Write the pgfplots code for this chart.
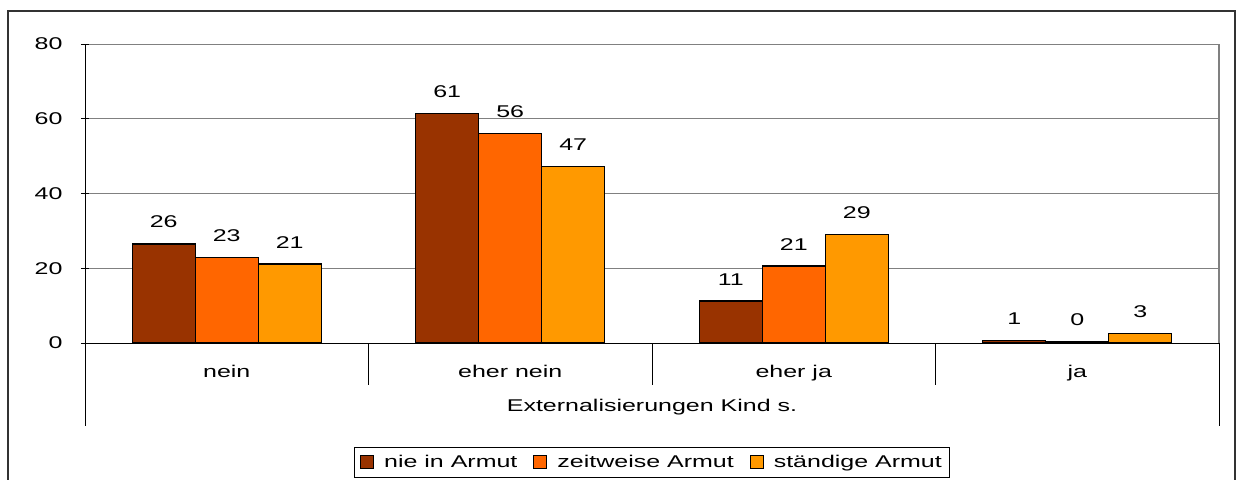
\documentclass[border=0pt]{standalone}
\usepackage{fontspec}
\setmainfont{Liberation Sans}[FakeStretch=1.47]
\usepackage{pgfplots}
\pgfplotsset{compat=1.18}
\definecolor{c1}{HTML}{993300}
\definecolor{c2}{HTML}{FF6600}
\definecolor{c3}{HTML}{FF9900}
\definecolor{gridgray}{HTML}{808080}
\pgfplotsset{legsq/.style={legend image code/.code={\draw[##1,draw=black,line width=1bp] (0bp,-6.5bp) rectangle (13bp,6.5bp);}}}
\begin{document}
\begin{tikzpicture}[font=\fontsize{17bp}{19bp}\selectfont]
\useasboundingbox (-85bp,343bp) rectangle (1151bp,-137bp);
\begin{axis}[
  at={(0,0)}, anchor=south west,
  scale only axis, width=1134bp, height=299bp,
  xmin=-0.5, xmax=3.5, ymin=0, ymax=80,
  ytick={0,20,40,60,80},
  xtick={0,1,2,3},
  xticklabels={nein,eher nein,eher ja,ja},
  xtick style={draw=none},
  ytick style={black,line width=1bp},
  major tick length=8bp,
  tick align=outside,
  axis lines=left,
  axis line style={-,black,line width=1bp},
  ymajorgrids,
  major grid style={gridgray,line width=1bp},
  /pgf/number format/assume math mode=true,
  yticklabel style={anchor=east,xshift=-15bp},
  xticklabel style={anchor=base,yshift=-26bp},
  ybar=0pt, bar width=63bp,
  point meta=explicit symbolic,
  nodes near coords,
  nodes near coords style={anchor=south,yshift=12bp,black},
  clip=false,
  legend columns=3,
  legend style={at={(axis description cs:0.5,0)}, anchor=north, yshift=-104bp,
    draw=black, line width=1bp, inner xsep=6bp, inner ysep=6bp,
    /tikz/every odd column/.append style={column sep=8bp},
    /tikz/every even column/.append style={column sep=14bp},
    font=\fontsize{17bp}{19bp}\selectfont},
  xlabel={Externalisierungen Kind s.},
  xlabel style={at={(axis description cs:0.5,0)}, anchor=base, yshift=-68.7bp},
]
\addplot[legsq, fill=c1, draw=black, line width=1.3bp] coordinates {(0,26.5)[26] (1,61.4)[61] (2,11.2)[11] (3,0.7)[1]};
\addplot[legsq, fill=c2, draw=black, line width=1.3bp] coordinates {(0,22.8)[23] (1,56.0)[56] (2,20.6)[21] (3,0.35)[0]};
\addplot[legsq, fill=c3, draw=black, line width=1.3bp] coordinates {(0,21.1)[21] (1,47.3)[47] (2,29.1)[29] (3,2.5)[3]};
\legend{nie in Armut,zeitweise Armut,ständige Armut}
\draw[gridgray,line width=2bp] (rel axis cs:1,0) -- (rel axis cs:1,1);
\draw[black,line width=1bp] (rel axis cs:0,0) -- (rel axis cs:1,0);
\draw[black,line width=1bp] (axis cs:0.5,0) -- ++(0pt,-42bp);
\draw[black,line width=1bp] (axis cs:1.5,0) -- ++(0pt,-42bp);
\draw[black,line width=1bp] (axis cs:2.5,0) -- ++(0pt,-42bp);
\draw[black,line width=1bp] (axis cs:-0.5,0) -- ++(0pt,-83bp);
\draw[black,line width=1bp] (axis cs:3.5,0) -- ++(0pt,-83bp);
\end{axis}
\draw[black!80,line width=2bp] (-77bp,332bp) rectangle (1150bp,-150bp);
\end{tikzpicture}
\end{document}
